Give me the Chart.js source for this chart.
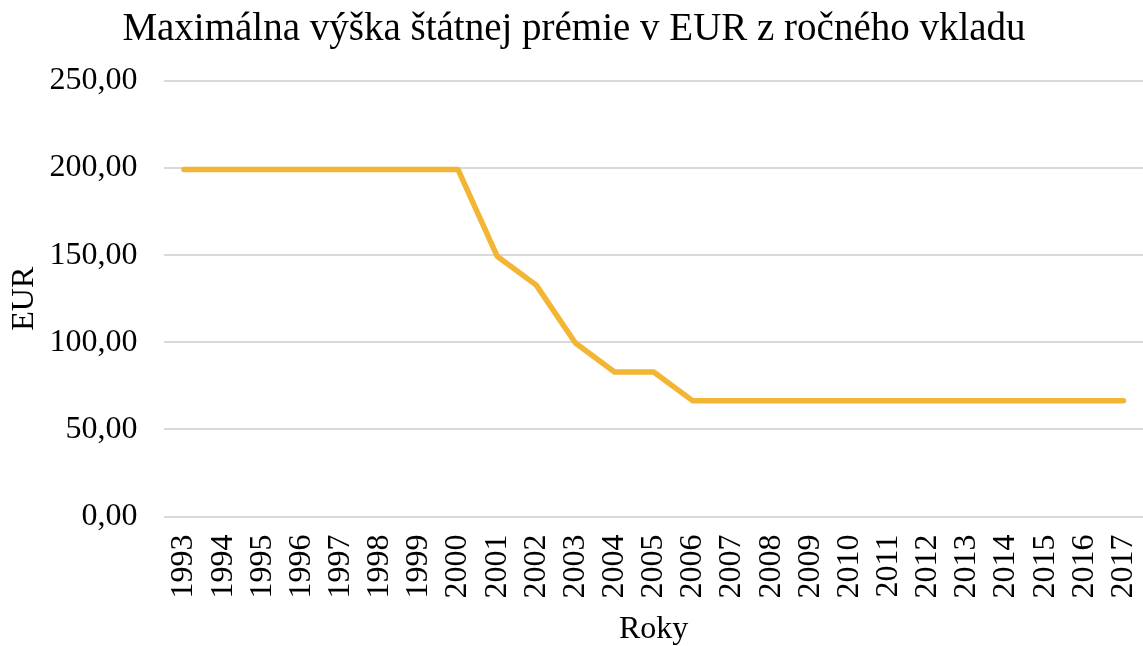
<!DOCTYPE html>
<html>
<head>
<meta charset="utf-8">
<script src="https://cdn.jsdelivr.net/npm/chart.js@4"></script>
<style>
  html, body { margin: 0; padding: 0; background: #fff; }
  #wrap { width: 1143px; height: 646px; position: relative; }
</style>
</head>
<body>
<div id="wrap"><canvas id="premiumChart"></canvas></div>
<script>
// years and max state premium (EUR) per annual deposit
const years = ["1993","1994","1995","1996","1997","1998","1999","2000","2001","2002","2003","2004","2005",
  "2006","2007","2008","2009","2010","2011","2012","2013","2014","2015","2016","2017"];
const premium = [199.16,199.16,199.16,199.16,199.16,199.16,199.16,199.16,149.37,132.78,99.58,82.98,82.98,
  66.39,66.39,66.39,66.39,66.39,66.39,66.39,66.39,66.39,66.39,66.39,66.39];
const yTicks = [0, 50, 100, 150, 200, 250];

const serif = "'Liberation Serif', 'Times New Roman', serif";

document.addEventListener("DOMContentLoaded", () => {
  const ctx = document.getElementById("premiumChart").getContext("2d");

  new Chart(ctx, {
    type: "line",
    data: {
      labels: years,
      datasets: [{
        label: "Štátna prémia",
        data: premium,
        borderColor: "#F2B534",
        borderWidth: 5.5,
        borderCapStyle: "round",
        borderJoinStyle: "round",
        pointRadius: 0,
        tension: 0,
        fill: false
      }]
    },
    options: {
      responsive: true,
      maintainAspectRatio: false,
      animation: false,
      layout: { padding: { left: 5, right: 0, top: 6, bottom: -3 } },
      plugins: {
        legend: { display: false },
        tooltip: { enabled: false },
        title: {
          display: true,
          text: "Maximálna výška štátnej prémie v EUR z ročného vkladu",
          color: "#000",
          font: { family: serif, size: 39, weight: "normal" },
          padding: { top: 0, bottom: 28 }
        }
      },
      scales: {
        x: {
          offset: true,
          grid: { display: false, drawTicks: false },
          border: { display: false },
          ticks: {
            color: "#000",
            font: { family: serif, size: 32 },
            maxRotation: 90,
            minRotation: 90,
            autoSkip: false,
            padding: 18
          },
          // no extra side padding for the rotated labels, plot runs to the edge
          afterFit: axis => { axis.paddingLeft = 0; axis.paddingRight = 0; },
          title: {
            display: true,
            text: "Roky",
            color: "#000",
            font: { family: serif, size: 32 },
            padding: { top: -6, bottom: 0 }
          }
        },
        y: {
          min: 0,
          max: 250,
          afterBuildTicks: axis => { axis.ticks = yTicks.map(v => ({ value: v })); },
          grid: { color: "#d9d9d9", lineWidth: 2, drawTicks: false },
          border: { display: false },
          ticks: {
            color: "#000",
            font: { family: serif, size: 32 },
            padding: 27,
            callback: v => v.toFixed(2).replace(".", ",")
          },
          title: {
            display: true,
            text: "EUR",
            color: "#000",
            font: { family: serif, size: 32 },
            padding: { top: 0, bottom: -21 }
          }
        }
      }
    }
  });
});
</script>
</body>
</html>
